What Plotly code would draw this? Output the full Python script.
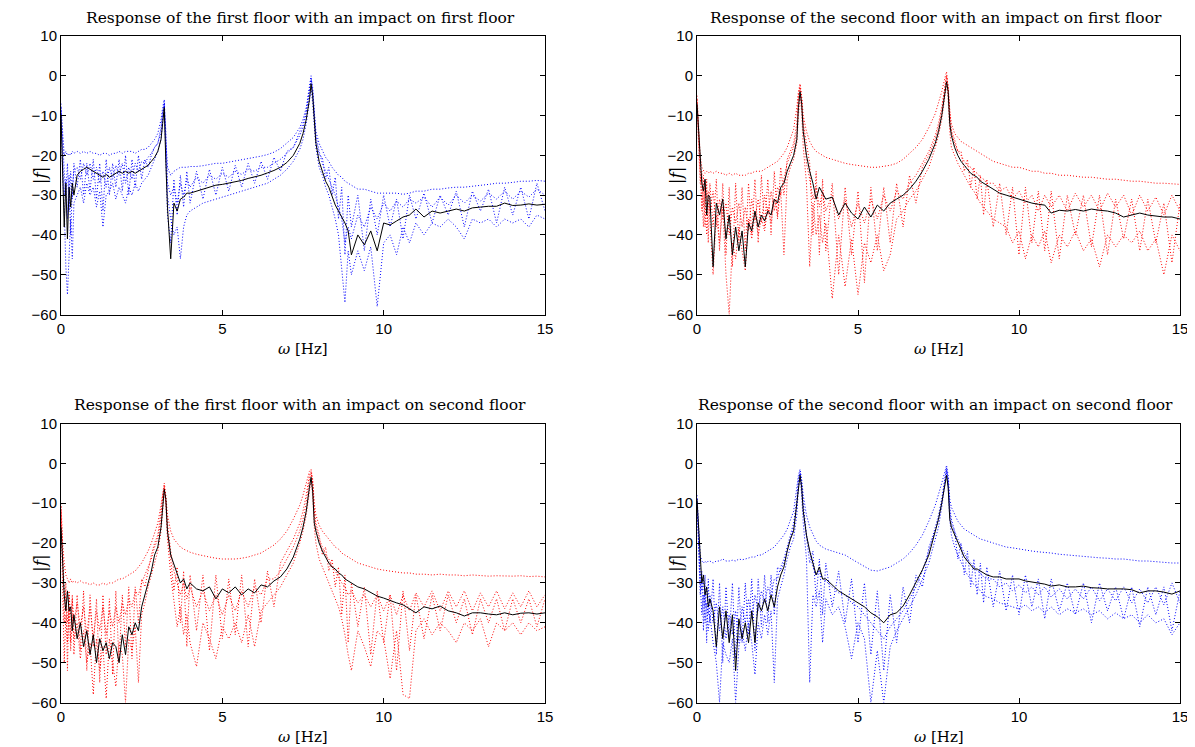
import plotly.graph_objects as go

# Shared frequency grid (Hz)
FREQ = [0, 0.05, 0.1, 0.15, 0.2, 0.25, 0.3, 0.35, 0.4,
        0.5, 0.6, 0.7, 0.8, 0.9, 1.0, 1.1, 1.2, 1.3, 1.4, 1.5, 1.6, 1.7, 1.8, 1.9, 2.0, 2.1, 2.2, 2.3, 2.4, 2.5, 2.6, 2.7, 2.8, 2.9,
        3.0, 3.1, 3.15, 3.2, 3.25, 3.3, 3.4, 3.5, 3.6, 3.7, 3.8, 3.9, 4.0,
        4.2, 4.4, 4.6, 4.8, 5.0, 5.2, 5.4, 5.6, 5.8, 6.0, 6.2, 6.4, 6.6, 6.8, 7.0, 7.2, 7.4,
        7.5, 7.6, 7.7, 7.75, 7.8, 7.85, 7.9, 8.0, 8.1, 8.2, 8.3, 8.4, 8.5, 8.6, 8.7, 8.8, 8.9, 9.0,
        9.2, 9.4, 9.6, 9.8, 10.0, 10.2, 10.4, 10.6, 10.8, 11.0, 11.25, 11.5, 11.75, 12.0, 12.25, 12.5, 12.75, 13.0, 13.25, 13.5, 13.75, 14.0, 14.25, 14.5, 14.75, 15.0]

# ---------- Panel 1: first floor, impact on first floor ----------
TL_BLACK = [-10, -22, -38, -27, -41, -28, -33, -27, -30,
            -25, -24, -23.5, -23, -23.5, -24, -24.5, -25, -25.5, -24.8, -25.5, -25, -24.5, -24, -24.5, -24, -24.5, -24, -24.5, -24, -23.5, -23, -22.5, -21.5, -20.5,
            -19, -16, -12, -8, -22, -33, -46, -32, -34, -31, -30.5, -29.5, -29.5,
            -29, -28.5, -28, -27.5, -27.3, -27, -26.6, -26.3, -25.8, -25.4, -25, -24.4, -23.8, -23, -21.8, -20, -17,
            -14.5, -11, -6, -2, -5, -12, -17, -21.5, -24, -26.5, -28, -30.5, -32.5, -34, -35.5, -37, -39, -45,
            -40, -42.5, -39, -44, -37, -37.5, -36.5, -35.5, -35, -33.5, -35.5, -34, -34.5, -34, -33.5, -34, -33.2, -33, -32.8, -32.8, -32, -32.6, -32.5, -32.2, -32.5, -32.3]
TL_DOT1 = [-8, -15, -20, -19, -20, -19.5, -20, -19, -19.5,
           -19, -19.5, -19, -19.5, -19, -19.5, -19.5, -20, -19.5, -19.5, -20, -19.5, -19.5, -19, -19.5, -19, -19, -19, -19.5, -19, -18.5, -18.5, -18, -17, -16,
           -14.5, -11, -8, -6, -16, -23, -25, -24, -23.5, -23, -23, -23, -22.8,
           -22.8, -22.6, -22.3, -22, -22, -21.7, -21.5, -21.2, -20.9, -20.6, -20.2, -19.8, -19.2, -18.3, -17, -15.5, -13,
           -11, -8, -3, 0, -4, -10, -14, -17, -19, -20.5, -21.5, -23, -24, -25, -25.5, -26.5, -27, -27.5,
           -28.5, -28.5, -29, -29.5, -29.5, -29.5, -29.5, -29.8, -29.5, -29, -29, -28.5, -28.5, -28.2, -28, -28, -27.8, -27.5, -27.3, -27, -27, -26.8, -26.5, -26.5, -26.3, -26.5]
TL_DOT2 = [-7, -25, -33, -48, -55, -45, -36, -46, -32,
           -30, -28, -32, -27, -30, -28, -33, -29, -38, -30, -29, -27, -31, -28, -30, -32, -28, -30, -27, -29, -27, -26, -25, -23, -21,
           -19, -16, -11, -7, -18, -30, -36, -40, -38, -46, -38, -35, -34,
           -33, -32, -31.5, -31, -30.5, -30, -29.5, -29, -28.5, -28, -27.5, -27, -26, -25, -23.5, -21.5, -18.5,
           -16, -12, -6, -3, -7, -14, -18, -23, -25, -28, -30, -33, -36, -40, -48, -57, -44, -50,
           -44, -49, -43, -58, -42, -40, -45, -38, -42, -37, -40, -37, -38, -36, -38, -41, -36, -37, -36, -38, -36, -37, -36, -38, -35, -36]
TL_DOT3 = [-9, -20, -30, -26, -36, -25, -40, -28, -24,
           -23, -26, -22, -25, -22, -26, -23, -27, -24, -28, -23, -26, -22.5, -25, -22, -27, -23, -26, -22, -24, -21.5, -22, -20.5, -19.5, -18,
           -17, -13, -9, -7.5, -14, -27, -30, -28, -32, -27, -30, -26, -28,
           -25.5, -27, -25, -26, -24.5, -25.5, -24, -24.8, -23.5, -24, -23, -23, -22, -21, -19.5, -18, -15,
           -13, -9.5, -4, -1, -3, -9, -15, -19, -22, -24, -26, -28, -30, -33, -36, -42, -38, -41,
           -35, -38, -33, -36, -32, -34, -31.5, -33, -31, -32, -30.5, -33, -30.5, -32.5, -30, -32, -30, -31.5, -29.5, -31, -29, -31, -29, -30.5, -28.5, -30]
TL_DOT4 = [-8, -18, -24, -30, -22, -34, -24, -31, -22,
           -28, -21, -30, -22, -29, -21, -31, -22, -34, -21, -30, -22, -28, -21, -29, -20, -30, -21, -28, -20, -26, -21, -23, -20, -18,
           -17, -14, -10, -6.5, -20, -35, -42, -26, -35, -25, -33, -24, -32,
           -24, -31, -23.5, -30, -23, -29, -22.5, -28, -22, -27, -21.5, -26, -20.5, -24, -19, -18, -14,
           -12, -9, -4, -0.5, -4, -11, -16, -20, -20.5, -26, -23, -30, -25.5, -36, -28, -45, -30, -38,
           -30, -44, -31, -40, -30, -38, -31, -41, -30, -36, -29.5, -37, -30, -35, -29, -38, -29, -34, -28.5, -37, -28, -35, -28, -36, -27, -34]

# ---------- Panel 2: second floor, impact on first floor ----------
TR_BLACK = [-7, -14, -22, -27, -29, -26, -35, -30, -30.5,
            -48, -32, -35, -31, -41, -35, -45, -38, -44, -39, -48, -37, -39, -34, -38, -35, -36.5, -34, -35, -31, -32, -28, -27, -24, -22,
            -20, -16, -8, -4, -7, -14, -20, -24, -27, -31, -28, -29.5, -31,
            -30.5, -35, -32, -34.5, -36, -33, -35.5, -32.5, -34, -32, -31, -30, -28.5, -26.5, -24, -21, -17,
            -14, -10, -4, -1.5, -4, -12, -15, -18, -20, -21.5, -22.5, -23.5, -24.5, -25, -25.5, -26.5, -27, -27.5,
            -28.5, -29.5, -30, -30.5, -31, -31.5, -32, -32.3, -32.5, -34.5, -33.8, -34, -33.6, -34, -33.5, -33.8, -34, -34.5, -35.5, -35, -34.5, -35, -35.2, -35.5, -35.5, -36]
TR_DOT1 = [-5, -14, -20, -23, -24, -24.5, -24, -24.5, -24,
           -24.5, -24, -24.5, -24.5, -25, -24.5, -25, -24.5, -25, -25, -25, -24.5, -24.5, -24, -24, -24, -23.5, -23, -22.5, -22, -21.5, -20.5, -19.5, -18, -16,
           -13.5, -8, -4, -2, -5, -10, -14, -16.5, -18, -19, -19.5, -20, -20.5,
           -21, -21.5, -22, -22.3, -22.5, -22.8, -23, -23, -22.8, -22.5, -22, -21, -19.5, -18, -16, -13, -9.5,
           -7, -4, -0.5, 1, -3, -9, -12, -14.5, -15.5, -16.5, -17, -17.5, -18, -18.5, -19, -19.5, -20, -20.5,
           -21.5, -22, -22.5, -23, -23, -23.5, -24, -24, -24.5, -24.5, -25, -25, -25.3, -25.5, -25.5, -25.8, -26, -26, -26.3, -26.5, -26.5, -26.8, -27, -27, -27.2, -27.3]
TR_DOT2 = [-6, -15, -25, -30, -38, -28, -40, -31, -36,
           -50, -35, -42, -33, -50, -60, -42, -46, -38, -44, -49, -36, -41, -35, -40, -36, -39, -33, -37, -31, -35, -29, -45, -26, -23,
           -21, -17, -10, -5, -9, -18, -27, -48, -32, -40, -35, -42, -37,
           -56, -40, -53, -41, -55, -42, -47, -40, -49, -45, -36, -34, -31, -29, -26, -23, -18,
           -15, -11, -5, -2, -6, -14, -18, -20, -22, -23.5, -25, -26.5, -28, -29, -30.5, -32, -33, -34,
           -36, -37, -38, -42, -39, -46, -40, -43, -39, -47, -40, -43, -39, -44, -41, -48, -40, -43, -40, -42, -39, -44, -41, -50, -40, -44]
TR_DOT3 = [-8, -18, -27, -24, -33, -26, -31, -29, -34,
           -29, -38, -31, -36, -32, -40, -33, -37, -32, -38, -33, -39, -31, -36, -31, -37, -30, -35, -29, -34, -28, -30, -26, -22, -20,
           -18, -14, -6, -3, -6, -12, -22, -26, -31, -28, -33, -29, -34,
           -30, -36, -31, -38, -32, -37, -31, -36, -30, -34, -29, -31, -27, -25, -22, -19, -15,
           -12, -8, -3, 0, -3, -10, -14, -17, -19, -20, -21.5, -22.5, -23, -24, -24.5, -25.5, -26, -27,
           -27, -29, -28, -31, -29, -32, -30, -34, -30, -33, -30, -34, -29.5, -33, -30, -34, -29.5, -33, -30, -35, -30, -34, -30.5, -35, -30, -34]
TR_DOT4 = [-6, -16, -22, -34, -25, -38, -26, -42, -27,
           -38, -26, -44, -27, -45, -28, -48, -27, -42, -28, -44, -27, -40, -26, -42, -25, -38, -26, -40, -24, -36, -23, -30, -21, -19,
           -17, -12, -5, -2.5, -6, -12, -17, -22, -40, -24, -45, -26, -44,
           -27, -50, -28, -45, -29, -52, -28, -44, -28, -42, -27, -38, -25, -32, -23, -20, -16,
           -13, -9, -3, 0, -3, -11, -14, -16, -19, -19, -24, -21, -28, -23, -31, -25, -35, -26,
           -38, -27, -40, -28, -45, -28, -42, -29, -44, -29, -46, -30, -40, -30, -43, -30, -45, -31, -41, -31, -44, -31, -42, -32, -47, -32]

# ---------- Panel 3: first floor, impact on second floor ----------
BL_BLACK = [-16, -25, -33, -37, -32, -37, -36, -42, -38,
            -44, -40, -46, -42, -48, -43, -50, -44, -47, -45, -49, -45, -46, -50, -43, -48, -41, -43, -40, -42, -36, -33, -30, -27, -23,
            -21, -16, -10, -6.5, -9, -17, -23, -25.5, -28, -30, -29, -31.5, -30,
            -31.5, -32, -31, -34, -31.5, -32.5, -31, -33, -31.5, -32.5, -30.5, -31, -29.5, -28.5, -26.5, -23.5, -19,
            -16, -12, -6, -3.5, -7, -15, -17, -20, -22, -23.5, -25, -26, -26.5, -27.5, -28, -29, -29.5, -30,
            -31, -31.5, -32.5, -33.3, -33.8, -34.5, -35, -35.5, -36.5, -37.5, -36, -36.5, -35.8, -37, -37.5, -38.3, -37.5, -37.5, -37.8, -38, -37.5, -38, -37.6, -37.5, -37.8, -37.5]
BL_DOT1 = [-10, -20, -25, -28, -29, -30, -29, -30, -29.5,
           -30, -29.5, -30, -30, -30.5, -30, -30.5, -30.5, -30, -30.5, -30, -30, -29.5, -29, -29, -28.5, -28, -27.5, -27, -26, -25, -23.5, -22, -20, -17.5,
           -15, -10.5, -7, -5, -8, -13, -17, -19, -20, -21, -21.5, -22, -22.3,
           -22.8, -23.2, -23.5, -23.8, -24, -24, -24, -23.8, -23.5, -23, -22.5, -21.5, -20.5, -19, -17, -14, -10.5,
           -8, -5, -2, -1.5, -4, -10, -13, -15.5, -17, -18, -19, -20, -21, -21.5, -22.5, -23, -23.5, -24,
           -25, -25.5, -26, -26.5, -26.8, -27, -27.3, -27.5, -27.5, -27.8, -27.8, -28, -27.8, -28, -28, -28.2, -28, -28.2, -28.3, -28.2, -28.3, -28.3, -28.2, -28.4, -28.3, -28.5]
BL_DOT2 = [-12, -30, -50, -38, -45, -36, -47, -38, -44,
           -40, -49, -42, -50, -45, -58, -44, -52, -46, -59, -44, -50, -56, -45, -48, -60, -44, -47, -41, -55, -38, -35, -31, -28, -25,
           -22, -17, -11, -7, -10, -19, -28, -35, -41, -36, -43, -38, -45,
           -51, -40, -44, -49, -41, -44, -40, -45, -38, -46, -37, -35, -33, -31, -28, -25, -20,
           -17, -13, -7, -4, -8, -16, -20, -24, -26, -28, -30, -32, -34, -36, -39, -43, -48, -52,
           -42, -46, -51, -42, -44, -54, -42, -58, -59, -42, -39, -43, -40, -42, -45, -40, -42, -39, -46, -40, -42, -40, -43, -40, -42, -41]
BL_DOT3 = [-14, -24, -31, -34, -40, -33, -38, -34, -40,
           -35, -41, -36, -43, -36, -44, -37, -42, -36, -43, -37, -41, -36, -40, -35, -38, -34, -36, -32, -33, -30, -28, -26, -24, -21,
           -19, -14, -8, -6, -9, -15, -22, -27, -30, -33, -30, -34, -31,
           -36, -32, -37, -33, -38, -33, -37, -32, -36, -31, -33, -29, -29, -27, -24, -21, -17,
           -14, -10, -4, -2.5, -5, -13, -16, -19, -21, -23, -24, -26, -27, -28.5, -30, -31, -33, -32,
           -35, -33, -36, -33, -37, -33, -38, -33, -37, -32.5, -36, -32, -37, -32, -36, -32, -37, -32.5, -36, -32, -36.5, -32.5, -36, -32, -36, -33]
BL_DOT4 = [-11, -22, -40, -30, -52, -32, -45, -33, -48,
           -33, -47, -32, -52, -33, -46, -34, -55, -33, -48, -34, -53, -32, -50, -33, -46, -31, -49, -31, -40, -29, -31, -27, -23, -20,
           -18, -12, -8, -5.5, -10, -18, -24, -32, -26, -40, -27, -46, -28,
           -42, -28, -47, -28, -44, -29, -43, -28, -46, -29, -40, -27, -36, -25, -22, -19, -15,
           -12, -8, -3, -2, -5, -12, -15, -18, -23, -21, -27, -24, -31, -26, -38, -28, -45, -30,
           -41, -31, -48, -32, -45, -33, -52, -32, -47, -33, -44, -33, -42, -33, -40, -34, -43, -34, -40, -34, -42, -34, -40, -34, -41, -34]

# ---------- Panel 4: second floor, impact on second floor ----------
BR_BLACK = [-9, -17, -25, -30, -28, -33, -31, -36, -34,
            -37, -46, -36, -44, -37, -45, -38, -52, -39, -44, -40, -45, -37, -45, -35, -37, -34, -37, -33, -36, -31, -28, -26, -22, -19,
            -17, -10, -5, -3, -6, -12, -18, -22, -25, -28, -26, -29, -29,
            -30.5, -32, -33, -34, -35, -36, -37.5, -38.5, -40, -38, -37.5, -35.8, -33, -30, -26.7, -23, -17,
            -14, -10, -5, -3, -6, -14, -16, -18, -20, -22, -23.5, -24.5, -25.5, -26.5, -26.5, -27, -27.5, -28,
            -28.5, -28.5, -29, -29, -29, -29.5, -29.8, -30, -30.3, -30.8, -30.5, -31, -31, -30.8, -31.2, -31.3, -31.5, -31.5, -31.5, -31.7, -32.5, -32, -32, -32.3, -32.8, -32]
BR_DOT1 = [-8, -17, -23, -24.5, -25, -24.5, -25, -24.5, -24.5,
           -25, -24.5, -24.5, -24, -24.5, -24.5, -24.3, -24.5, -24, -24.2, -24, -23.8, -23.5, -23.5, -23, -23, -22.5, -22, -21.5, -21, -20, -19, -18, -16.5, -14.5,
           -12, -6, -3, -1.5, -4, -8, -13, -16, -18, -19.5, -20.5, -21, -21.5,
           -22, -22.5, -23, -24, -25, -26, -26.8, -27, -26.5, -26, -25, -24, -22.5, -20.5, -18, -14.5, -10.5,
           -8, -5, -2, -0.5, -3, -9, -11, -13, -14.5, -15.5, -16.5, -17, -17.5, -18, -18.5, -19, -19.2, -19.5,
           -20, -20.5, -21, -21.2, -21.5, -21.8, -22, -22.2, -22.3, -22.5, -22.8, -23, -23.2, -23.3, -23.5, -23.7, -23.8, -24, -24, -24.2, -24.5, -24.5, -24.7, -24.8, -25, -25]
BR_DOT2 = [-10, -22, -30, -38, -33, -40, -35, -42, -38,
           -45, -50, -60, -45, -48, -50, -44, -60, -46, -42, -47, -40, -45, -53, -40, -44, -38, -43, -37, -55, -34, -31, -28, -24, -21,
           -19, -13, -6, -3, -8, -15, -24, -55, -33, -36, -32, -45, -34,
           -38, -36, -41, -49, -40, -44, -60, -47, -60, -46, -42, -39, -36, -33, -29, -25, -19,
           -16, -11, -5, -2, -6, -14, -18, -21, -23, -25, -26.5, -28, -29, -30.5, -31, -32, -33, -33.5,
           -34, -35, -35.5, -36, -36.5, -35.5, -37, -36, -37.5, -36, -38, -36.5, -37.5, -36.5, -38, -37, -39, -37.5, -39, -38, -40, -38, -40, -39, -43, -40]
BR_DOT3 = [-9, -20, -27, -32, -29, -36, -31, -38, -33,
           -40, -35, -42, -36, -44, -38, -43, -37, -45, -36, -40, -34, -39, -33, -37, -32, -35, -31, -33, -29, -29, -26, -24, -21, -18,
           -15, -9, -4, -2, -5, -10, -18, -22, -26, -28, -27, -29, -29.5,
           -31, -32.5, -33, -35, -36, -38, -40, -42, -44, -41, -39, -37, -34, -31, -27, -22, -16,
           -13, -9, -3, -1, -4, -11, -14, -17, -19, -21, -22.5, -24, -25, -26, -27, -27.5, -28.5, -29,
           -29, -31, -30, -32, -30.5, -32.5, -31, -33, -31, -33.5, -31.5, -34, -31.5, -34, -31, -34.5, -31.5, -34.5, -31, -35, -31.5, -35, -31, -35.5, -30, -35]
BR_DOT4 = [-9, -19, -33, -27, -42, -28, -45, -29, -40,
           -29, -48, -30, -50, -31, -44, -30, -49, -31, -45, -30, -43, -29, -47, -29, -41, -28, -40, -28, -38, -26, -27, -25, -22, -19,
           -16, -11, -5, -2.5, -6, -12, -18, -25, -22, -34, -24, -38, -25,
           -36, -27, -40, -29, -45, -30, -48, -32, -52, -33, -45, -31, -40, -28, -31, -21, -17,
           -14, -10, -4, -1.5, -5, -12, -15, -17, -24, -20, -28, -22, -31, -24, -33, -25, -35, -26,
           -36, -27, -37, -28, -38, -28, -36, -29, -39, -29, -37, -30, -38, -30, -40, -30, -37, -31, -39, -31, -41, -31, -38, -31, -42, -32]

TITLES = ["Response of the first floor with an impact on first floor",
          "Response of the second floor with an impact on first floor",
          "Response of the first floor with an impact on second floor",
          "Response of the second floor with an impact on second floor"]
X_TICKS = [0, 5, 10, 15]
Y_TICKS = [-60, -50, -40, -30, -20, -10, 0, 10]

# The page adds an 8px body margin, so the figure is 8px smaller than the window
FIG_W, FIG_H = 1187, 739
LEFT_COL = [53 / FIG_W, 537 / FIG_W]
RIGHT_COL = [689 / FIG_W, 1172 / FIG_W]
TOP_ROW = [1 - 306.5 / FIG_H, 1 - 28 / FIG_H]
BOT_ROW = [1 - 694.5 / FIG_H, 1 - 415.5 / FIG_H]

panels = [
    dict(black=TL_BLACK, dots=[TL_DOT1, TL_DOT2, TL_DOT3, TL_DOT4], color="#0000ff",
         xd=LEFT_COL, yd=TOP_ROW),
    dict(black=TR_BLACK, dots=[TR_DOT1, TR_DOT2, TR_DOT3, TR_DOT4], color="#ff0000",
         xd=RIGHT_COL, yd=TOP_ROW),
    dict(black=BL_BLACK, dots=[BL_DOT1, BL_DOT2, BL_DOT3, BL_DOT4], color="#ff0000",
         xd=LEFT_COL, yd=BOT_ROW),
    dict(black=BR_BLACK, dots=[BR_DOT1, BR_DOT2, BR_DOT3, BR_DOT4], color="#0000ff",
         xd=RIGHT_COL, yd=BOT_ROW),
]

for p in panels:
    for arr in [p["black"]] + p["dots"]:
        if len(arr) != len(FREQ):
            raise ValueError(f"length mismatch {len(arr)} vs {len(FREQ)}")

fig = go.Figure()
layout = dict(width=FIG_W, height=FIG_H, margin=dict(l=0, r=0, t=0, b=0, autoexpand=False),
              paper_bgcolor="white", plot_bgcolor="white", showlegend=False)

tickfont = dict(family="Liberation Sans, Arial, sans-serif", size=15, color="black")
serif = "DejaVu Serif, Liberation Serif, serif"
annotations = []

for i, p in enumerate(panels):
    sfx = "" if i == 0 else str(i + 1)
    xa, ya = "x" + sfx, "y" + sfx
    for d in p["dots"]:
        fig.add_trace(go.Scatter(x=FREQ, y=d, mode="lines", xaxis=xa, yaxis=ya,
                                 line=dict(color=p["color"], width=1, dash="1px,2px"),
                                 hoverinfo="skip"))
    fig.add_trace(go.Scatter(x=FREQ, y=p["black"], mode="lines", xaxis=xa, yaxis=ya,
                             line=dict(color="black", width=1), hoverinfo="skip"))
    common = dict(showline=True, linecolor="black", linewidth=1, mirror="ticks",
                  ticks="inside", ticklen=5, tickcolor="black", showgrid=False,
                  zeroline=False, tickfont=tickfont, automargin=False)
    layout["xaxis" + sfx] = dict(domain=p["xd"], range=[0, 15], tickvals=X_TICKS,
                                 anchor=ya, **common)
    layout["yaxis" + sfx] = dict(domain=p["yd"], range=[-60, 10], tickvals=Y_TICKS,
                                 anchor=xa, **common)
    xc = (p["xd"][0] + p["xd"][1]) / 2
    yc = (p["yd"][0] + p["yd"][1]) / 2
    annotations.append(dict(text=TITLES[i], x=xc - 3 / FIG_W, y=p["yd"][1] + 18 / FIG_H,
                            xref="paper", yref="paper",
                            xanchor="center", yanchor="middle", showarrow=False,
                            font=dict(family=serif, size=15.5, color="black")))
    annotations.append(dict(text="<i>ω</i> [Hz]", x=xc, y=p["yd"][0] - 34 / FIG_H,
                            xref="paper", yref="paper",
                            xanchor="center", yanchor="middle", showarrow=False,
                            font=dict(family=serif, size=15, color="black")))
    annotations.append(dict(text="|<i>f</i>|", x=p["xd"][0] - 21 / FIG_W, y=yc,
                            xref="paper", yref="paper",
                            xanchor="center", yanchor="middle", showarrow=False, textangle=-90,
                            font=dict(family=serif, size=17, color="black")))

layout["annotations"] = annotations
fig.update_layout(**layout)
fig.write_html("out.html")
